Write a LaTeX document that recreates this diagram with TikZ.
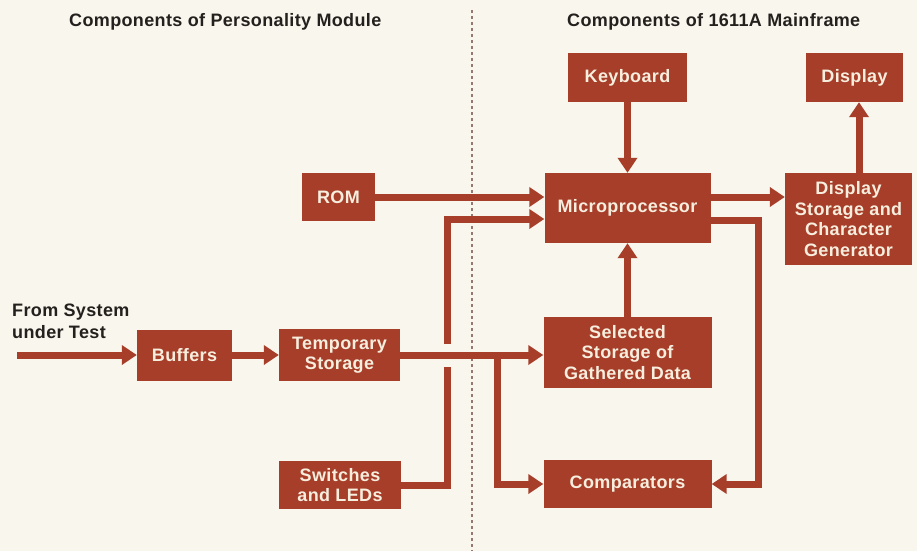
\documentclass[tikz,border=0pt]{standalone}
\usepackage{fontspec}
\setmainfont{Liberation Sans}
\newfontfamily\labfont{Liberation Sans}[LetterSpace=2]
\newfontfamily\headfont{Liberation Sans}[LetterSpace=2]
\usetikzlibrary{arrows.meta,calc}
\definecolor{bgcol}{RGB}{249,246,237}
\definecolor{boxcol}{RGB}{166,62,42}
\definecolor{boxtext}{RGB}{247,238,222}
\definecolor{darktext}{RGB}{35,32,30}
\definecolor{divcol}{RGB}{150,120,112}
\tikzset{
  blk/.style={fill=boxcol, draw=none, text=boxtext, align=center, inner sep=0pt,
    font=\labfont\bfseries\fontsize{18}{20.5}\selectfont},
  conn/.style={draw=boxcol, line width=7pt, -{Triangle[width=19pt,length=15pt]}},
  gapfill/.style={fill=bgcol, draw=none},
  divider/.style={draw=divcol, line width=1.4pt, dash pattern=on 3pt off 3pt},
  head/.style={text=darktext, anchor=base west, inner sep=0pt,
    font=\headfont\bfseries\fontsize{18}{20}\selectfont},
  side/.style={text=darktext, anchor=north west, align=left, inner sep=0pt,
    font=\labfont\bfseries\fontsize{18}{21.5}\selectfont}
}
\begin{document}
\begin{tikzpicture}[x=1pt,y=-1pt]
  \fill[bgcol] (0,0) rectangle (917,551);
  \useasboundingbox (0,0) rectangle (917,551);

  % divider
  \coordinate (dv1) at (472,10);
  \coordinate (dv2) at (472,551);
  \draw[divider] (dv1) -- (dv2);

  % headers
  \node[head] (h1) at (69,27) {Components of Personality Module};
  \node[head] (h2) at (567,27) {Components of 1611A Mainframe};

  % blocks
  \node[blk, minimum width=119pt, minimum height=49pt] (kb)   at (627.5,77.5) {Keyboard};
  \node[blk, minimum width=97pt,  minimum height=49pt] (disp) at (854.5,77.5) {Display};
  \node[blk, minimum width=166pt, minimum height=70pt] (mp)   at (627.5,208) {Microprocessor};
  \node[blk, minimum width=127pt, minimum height=92pt] (dsc)  at (848.5,219) {Display\\Storage and\\Character\\Generator};
  \node[blk, minimum width=168pt, minimum height=71pt] (sel)  at (627.5,352.5) {Selected\\Storage of\\Gathered Data};
  \node[blk, minimum width=168pt, minimum height=48pt] (cmp)  at (627.5,484) {Comparators};
  \node[blk, minimum width=73pt,  minimum height=48pt] (rom)  at (338.5,197) {ROM};
  \node[blk, minimum width=95pt,  minimum height=51pt] (buf)  at (184.5,355) {Buffers};
  \node[blk, minimum width=121pt, minimum height=52pt] (tmp)  at (339.5,355) {Temporary\\Storage};
  \node[blk, minimum width=122pt, minimum height=48pt] (sw)   at (340,485) {Switches\\and LEDs};

  % input label
  \node[side] (src) at (12,304) {From System\\under Test};

  % helper coordinates
  \coordinate (in) at (17,355);
  \coordinate (bus) at (447,219);
  \coordinate (br) at (497,355);
  \coordinate (cross) at (447,355);
  \coordinate (dl) at (859,0);
  \coordinate (mpin2) at ([yshift=-11pt]mp.west);
  \coordinate (mpout1) at ([yshift=11pt]mp.east);
  \coordinate (mpout2) at ([yshift=-12pt]mp.east);
  \coordinate (rt) at (758,0);

  % connectors
  \draw[conn] (in) -- (in -| buf.west);
  \draw[conn] (buf.east) -- (tmp.west);
  \draw[conn] (rom.east) -- (rom.east -| mp.west);
  \draw[conn] (sw.east) -| (bus) -- (mpin2);
  \fill[gapfill] ($(cross)+(-6,-11.5)$) rectangle ($(cross)+(6,11.5)$);
  \draw[conn] (tmp.east) -- (tmp.east -| sel.west);
  \draw[conn] (br) |- (cmp.west);
  \draw[conn] (kb.south) -- (mp.north);
  \draw[conn] (sel.north) -- (mp.south);
  \draw[conn] (mpout1) -- (mpout1 -| dsc.west);
  \draw[conn] (mpout2) -| (rt |- cmp.east) -- (cmp.east);
  \draw[conn] (dl |- dsc.north) -- (dl |- disp.south);
\end{tikzpicture}
\end{document}
